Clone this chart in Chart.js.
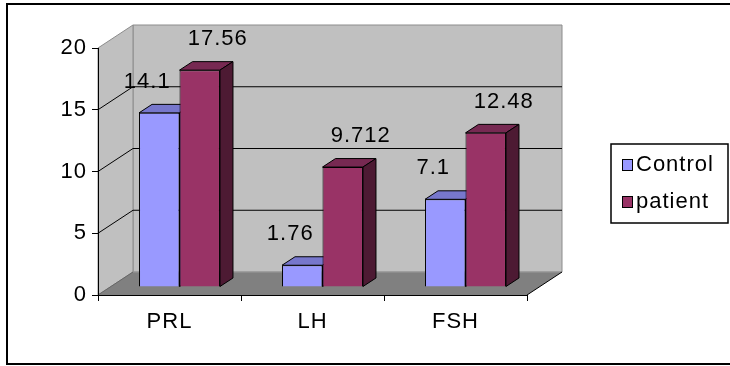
<!DOCTYPE html>
<html>
<head>
<meta charset="utf-8">
<script src="https://cdn.jsdelivr.net/npm/chart.js@4"></script>
<style>
  html, body { margin: 0; padding: 0; background: #fff; }
  canvas { display: block; }
</style>
</head>
<body>
<canvas id="hormoneChart" width="730" height="366"></canvas>
<script>
const categories = ['PRL', 'LH', 'FSH'];
const seriesNames = ['Control', 'patient'];
const controlValues = [14.1, 1.76, 7.1];
const patientValues = [17.56, 9.712, 12.48];
const yTicks = [0, 5, 10, 15, 20];

const FONT = { family: '"Liberation Sans", Arial, sans-serif', size: 22 };
const CONTROL_COLOR = '#9999FF';
const PATIENT_COLOR = '#993366';
// darker shades for the top and side faces of each column
const TOP_COLORS = ['#7777CC', '#772952'];
const SIDE_COLORS = ['#4D4D80', '#4D1A33'];

// oblique depth of the box, and where the columns sit inside it
const DEPTH = { x: 35, y: -23 };
const BAR_SHIFT = { x: 10, y: -8 };
const BAR_DEPTH = { x: 13, y: -8.5 };
const LABEL_DX = [-12, 18];
const LABEL_DY = -31;

function poly(ctx, pts, fill, stroke) {
    ctx.beginPath();
    ctx.moveTo(pts[0][0], pts[0][1]);
    for (let i = 1; i < pts.length; i++) ctx.lineTo(pts[i][0], pts[i][1]);
    ctx.closePath();
    if (fill) { ctx.fillStyle = fill; ctx.fill(); }
    if (stroke) { ctx.strokeStyle = stroke; ctx.lineWidth = 1; ctx.stroke(); }
}

function line(ctx, x1, y1, x2, y2, color, width) {
    ctx.beginPath();
    ctx.moveTo(x1, y1);
    ctx.lineTo(x2, y2);
    ctx.strokeStyle = color;
    ctx.lineWidth = width || 1;
    ctx.stroke();
}

// walls, floor and frame behind the axes
const boxPlugin = {
    id: 'box3d',
    beforeInit(chart) {
        // slightly spaced-out lettering for every text on the canvas
        chart.ctx.letterSpacing = '1px';
    },
    beforeDraw(chart) {
        const ctx = chart.ctx;
        ctx.letterSpacing = '1px';
        const area = chart.chartArea;
        const y = chart.scales.y;
        const top = y.getPixelForValue(yTicks[yTicks.length - 1]);
        const bot = y.getPixelForValue(0);
        const L = area.left, R = area.right;
        ctx.save();
        ctx.fillStyle = '#fff';
        ctx.fillRect(0, 0, chart.width, chart.height);
        ctx.strokeStyle = '#000';
        ctx.lineWidth = 2;
        ctx.strokeRect(7, 4, chart.width + 10, chart.height - 6);

        // back wall
        poly(ctx, [[L + DEPTH.x, top + DEPTH.y], [R + DEPTH.x, top + DEPTH.y],
                   [R + DEPTH.x, bot + DEPTH.y], [L + DEPTH.x, bot + DEPTH.y]], '#C0C0C0', '#8C8C8C');
        // side wall
        poly(ctx, [[L, top], [L + DEPTH.x, top + DEPTH.y],
                   [L + DEPTH.x, bot + DEPTH.y], [L, bot]], '#C0C0C0', '#8C8C8C');
        // gridlines across both walls
        yTicks.slice(1, -1).forEach(v => {
            const py = y.getPixelForValue(v);
            line(ctx, L, py, L + DEPTH.x, py + DEPTH.y, '#000');
            line(ctx, L + DEPTH.x, py + DEPTH.y, R + DEPTH.x, py + DEPTH.y, '#000');
        });
        // floor
        poly(ctx, [[L, bot], [R, bot], [R + DEPTH.x, bot + DEPTH.y], [L + DEPTH.x, bot + DEPTH.y]], '#808080', null);
        line(ctx, L, bot, L + DEPTH.x, bot + DEPTH.y, '#666');
        line(ctx, L + DEPTH.x, bot + DEPTH.y, R + DEPTH.x, bot + DEPTH.y, '#999');
        line(ctx, R, bot, R + DEPTH.x, bot + DEPTH.y, '#000');
        ctx.restore();
    },
    beforeDatasetsDraw(chart) {
        const ctx = chart.ctx;
        ctx.save();
        ctx.translate(BAR_SHIFT.x, BAR_SHIFT.y);
        chart.data.datasets.forEach((ds, di) => {
            chart.getDatasetMeta(di).data.forEach(bar => {
                const p = bar.getProps(['x', 'y', 'base', 'width'], true);
                const l = p.x - p.width / 2, r = p.x + p.width / 2;
                poly(ctx, [[l, p.y], [l + BAR_DEPTH.x, p.y + BAR_DEPTH.y],
                           [r + BAR_DEPTH.x, p.y + BAR_DEPTH.y], [r, p.y]], TOP_COLORS[di], '#000');
                poly(ctx, [[r, p.y], [r + BAR_DEPTH.x, p.y + BAR_DEPTH.y],
                           [r + BAR_DEPTH.x, p.base + BAR_DEPTH.y], [r, p.base]], SIDE_COLORS[di], '#000');
            });
        });
    },
    afterDatasetsDraw(chart) {
        const ctx = chart.ctx;
        ctx.font = FONT.size + 'px ' + FONT.family;
        ctx.fillStyle = '#000';
        ctx.textAlign = 'center';
        ctx.textBaseline = 'middle';
        chart.data.datasets.forEach((ds, di) => {
            chart.getDatasetMeta(di).data.forEach((bar, i) => {
                ctx.fillText(String(ds.data[i]), bar.x + LABEL_DX[di], bar.y + LABEL_DY);
            });
        });
        ctx.restore();
    },
    afterDraw(chart) {
        // boxed legend on the right
        const ctx = chart.ctx;
        ctx.save();
        ctx.fillStyle = '#fff';
        ctx.fillRect(611, 144, 117, 79);
        ctx.strokeStyle = '#000';
        ctx.lineWidth = 1.5;
        ctx.strokeRect(611, 144, 117, 79);
        ctx.font = FONT.size + 'px ' + FONT.family;
        ctx.textBaseline = 'middle';
        ctx.textAlign = 'left';
        chart.data.datasets.forEach((ds, di) => {
            const cy = 165 + di * 37;
            ctx.fillStyle = ds.backgroundColor;
            ctx.fillRect(622, cy - 6, 10, 11);
            ctx.lineWidth = 1;
            ctx.strokeRect(622.5, cy - 5.5, 10, 11);
            ctx.fillStyle = '#000';
            ctx.fillText(ds.label, 636, cy);
        });
        ctx.restore();
    }
};

new Chart(document.getElementById('hormoneChart'), {
    type: 'bar',
    data: {
        labels: categories,
        datasets: [
            { label: seriesNames[0], data: controlValues, backgroundColor: CONTROL_COLOR,
              borderColor: '#000', borderWidth: 1 },
            { label: seriesNames[1], data: patientValues, backgroundColor: PATIENT_COLOR,
              borderColor: '#000', borderWidth: 1 }
        ]
    },
    options: {
        responsive: false,
        animation: false,
        devicePixelRatio: 1,
        layout: { padding: { top: 48, right: 203, left: 0, bottom: 0 } },
        datasets: { bar: { categoryPercentage: 0.566, barPercentage: 1 } },
        plugins: { legend: { display: false }, tooltip: { enabled: false } },
        scales: {
            x: {
                offset: true,
                grid: { offset: true, drawOnChartArea: false, tickLength: 6, color: '#000' },
                border: { color: '#000', width: 1 },
                ticks: { font: FONT, color: '#000', padding: 8 },
                afterFit(s) { s.height = 71; }
            },
            y: {
                min: 0,
                max: 20,
                afterBuildTicks(s) { s.ticks = yTicks.map(v => ({ value: v })); },
                grid: { drawOnChartArea: false, tickLength: 6, color: '#000' },
                border: { color: '#000', width: 1 },
                ticks: { font: FONT, color: '#000', padding: 5 },
                afterFit(s) { s.width = 98; }
            }
        }
    },
    plugins: [boxPlugin]
});
</script>
</body>
</html>
